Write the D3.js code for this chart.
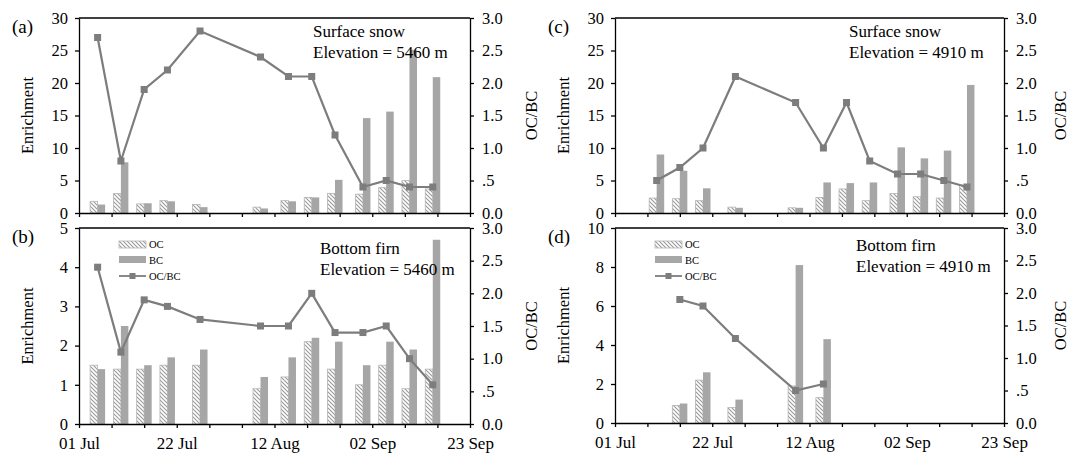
<!DOCTYPE html>
<html lang="en">
<head>
  <meta charset="UTF-8">
  <title>OC / BC enrichment</title>
  <script src="https://d3js.org/d3.v7.min.js"></script>
  <style>
    body { margin: 0; background: #fff; }
    svg { font-family: "Liberation Serif", "Times New Roman", serif; }
    .axis path, .axis line { stroke: #000; stroke-width: 1.3; }
    .oc-bar { stroke: #b5b5b5; stroke-width: 0.8; }
    .bc-bar { fill: #a6a6a6; }
    .ratio-line { fill: none; stroke: #7d7d7d; stroke-width: 2.2; }
    .ratio-pt { fill: #7d7d7d; }
    .note { font-size: 17px; }
    .legend text { font-size: 10.5px; }
  </style>
</head>
<body>
<svg width="1072" height="455"></svg>
<script>
  // sampling dates
  const datesA = ["05 Jul", "10 Jul", "15 Jul", "20 Jul", "27 Jul", "09 Aug", "15 Aug", "20 Aug", "25 Aug", "31 Aug", "05 Sep", "10 Sep", "15 Sep"];
  const datesC = ["10 Jul", "15 Jul", "20 Jul", "27 Jul", "09 Aug", "15 Aug", "20 Aug", "25 Aug", "31 Aug", "05 Sep", "10 Sep", "15 Sep"];
  const datesD = ["15 Jul", "20 Jul", "27 Jul", "09 Aug", "15 Aug"];

  // (a) surface snow 5460 m
  const ocA = [1.8, 3.0, 1.4, 1.9, 1.3, 0.9, 1.9, 2.4, 3.0, 2.9, 3.9, 5.0, 3.7];
  const bcA = [1.3, 7.8, 1.5, 1.8, 0.9, 0.7, 1.8, 2.4, 5.1, 14.6, 15.6, 25.1, 20.9];
  const ratioA = [2.7, 0.8, 1.9, 2.2, 2.8, 2.4, 2.1, 2.1, 1.2, 0.4, 0.5, 0.4, 0.4];

  // (b) bottom firn 5460 m
  const ocB = [1.5, 1.4, 1.4, 1.5, 1.5, 0.9, 1.2, 2.1, 1.4, 1.0, 1.5, 0.9, 1.4];
  const bcB = [1.4, 2.5, 1.5, 1.7, 1.9, 1.2, 1.7, 2.2, 2.1, 1.5, 2.1, 1.9, 4.7];
  const ratioB = [2.4, 1.1, 1.9, 1.8, 1.6, 1.5, 1.5, 2.0, 1.4, 1.4, 1.5, 1.0, 0.6];

  // (c) surface snow 4910 m
  const ocC = [2.3, 2.2, 1.9, 0.9, 0.8, 2.4, 3.7, 1.9, 3.0, 2.5, 2.3, 4.3];
  const bcC = [9.0, 6.5, 3.8, 0.8, 0.8, 4.7, 4.6, 4.7, 10.1, 8.4, 9.6, 19.7];
  const ratioC = [0.5, 0.7, 1.0, 2.1, 1.7, 1.0, 1.7, 0.8, 0.6, 0.6, 0.5, 0.4];

  // (d) bottom firn 4910 m
  const ocD = [0.9, 2.2, 0.8, 1.9, 1.3];
  const bcD = [1.0, 2.6, 1.2, 8.1, 4.3];
  const ratioD = [1.9, 1.8, 1.3, 0.5, 0.6];

  const xTickLabels = ["01 Jul", "22 Jul", "12 Aug", "02 Sep", "23 Sep"];
  const legendLabels = ["OC", "BC", "OC/BC"];

  const serif = "'Liberation Serif', 'Times New Roman', serif";
  const parse = d3.timeParse("%d %b");
  const fmt = d3.timeFormat("%d %b");
  const start = parse("01 Jul"), end = parse("23 Sep");
  const weekly = d3.timeDay.range(start, d3.timeDay.offset(end, 1), 7);

  const svg = d3.select("svg");
  svg.append("rect").attr("width", 1072).attr("height", 455).attr("fill", "#fff");

  // hatch for OC bars
  svg.append("defs").append("pattern")
    .attr("id", "hatch").attr("patternUnits", "userSpaceOnUse")
    .attr("width", 4).attr("height", 4)
    .call(p => {
      p.append("rect").attr("width", 4).attr("height", 4).attr("fill", "#fff");
      p.append("path").attr("d", "M-1,-1L5,5M3,-1L5,1M-1,3L1,5")
        .attr("stroke", "#9a9a9a").attr("stroke-width", 1.1);
    });

  function styleAxis(sel, size) {
    sel.attr("font-family", serif).attr("font-size", size);
    sel.selectAll("text").style("font-family", serif).style("font-size", size + "px").attr("fill", "#000");
  }

  function panel(o) {
    const g = svg.append("g");
    const x = d3.scaleTime().domain([start, end]).range([o.x0, o.x1]);
    const yL = d3.scaleLinear().domain([0, o.yMax]).range([o.y1, o.y0]);
    const yR = d3.scaleLinear().domain([0, 3]).range([o.y1, o.y0]);
    const bw = 7.5;
    const dates = o.dates.map(parse);

    // bars
    g.selectAll(".oc-bar").data(o.oc).enter().append("rect")
      .attr("class", "oc-bar").attr("fill", "url(#hatch)")
      .attr("x", (d, i) => x(dates[i]) - bw).attr("width", bw)
      .attr("y", d => yL(d)).attr("height", d => yL(0) - yL(d));
    g.selectAll(".bc-bar").data(o.bc).enter().append("rect")
      .attr("class", "bc-bar")
      .attr("x", (d, i) => x(dates[i])).attr("width", bw)
      .attr("y", d => yL(d)).attr("height", d => yL(0) - yL(d));

    // ratio line
    const line = d3.line().x((d, i) => x(dates[i])).y(d => yR(d));
    g.append("path").attr("class", "ratio-line").attr("d", line(o.ratio));
    g.selectAll(".ratio-pt").data(o.ratio).enter().append("rect")
      .attr("class", "ratio-pt")
      .attr("x", (d, i) => x(dates[i]) - 3.5).attr("y", d => yR(d) - 3.5)
      .attr("width", 7).attr("height", 7);

    // axes
    g.append("line").attr("x1", o.x0).attr("x2", o.x1).attr("y1", o.y0).attr("y2", o.y0)
      .attr("stroke", "#000").attr("stroke-width", 1.3);
    g.append("g").attr("class", "axis").attr("transform", `translate(${o.x0},0)`)
      .call(d3.axisLeft(yL).ticks(5).tickSize(4).tickSizeOuter(0).tickPadding(7))
      .call(styleAxis, 16.5);
    g.append("g").attr("class", "axis").attr("transform", `translate(${o.x1},0)`)
      .call(d3.axisRight(yR).ticks(6).tickSize(4).tickSizeOuter(0).tickPadding(8)
        .tickFormat(d => d3.format(".1f")(d).replace(/^0\.5$/, ".5")))
      .call(styleAxis, 16.5);
    g.append("g").attr("class", "axis").attr("transform", `translate(0,${o.y1})`)
      .call(d3.axisBottom(x).tickValues(weekly).tickSize(4).tickSizeOuter(0).tickPadding(9)
        .tickFormat(d => o.xLabels && xTickLabels.includes(fmt(d)) ? fmt(d) : ""))
      .call(styleAxis, 17);

    // titles
    const ym = (o.y0 + o.y1) / 2;
    g.append("text").attr("transform", `translate(${o.x0 - 46},${ym}) rotate(-90)`)
      .attr("text-anchor", "middle").style("font-size", "16.5px").text("Enrichment");
    g.append("text").attr("transform", `translate(${o.x1 + o.rOff},${ym}) rotate(-90)`)
      .attr("text-anchor", "middle").style("font-size", "16.5px").text("OC/BC");
    g.append("text").attr("x", o.x0 - 67).attr("y", o.y0 + 15)
      .style("font-size", "19px").text(o.tag);
    o.note.forEach((t, i) => g.append("text").attr("class", "note")
      .attr("x", o.noteX).attr("y", o.noteY + i * 20.5).text(t));

    if (o.legend) {
      const lg = g.append("g").attr("class", "legend")
        .attr("transform", `translate(${o.x0 + 40},${o.y0 + 13})`);
      lg.append("rect").attr("class", "oc-bar").attr("fill", "url(#hatch)")
        .attr("width", 27).attr("height", 7);
      lg.append("rect").attr("class", "bc-bar").attr("y", 15).attr("width", 27).attr("height", 7);
      lg.append("line").attr("class", "ratio-line").attr("x2", 27).attr("y1", 35).attr("y2", 35)
        .style("stroke-width", 1.8);
      lg.append("rect").attr("class", "ratio-pt").attr("x", 10.5).attr("y", 32).attr("width", 6).attr("height", 6);
      legendLabels.forEach((t, i) => lg.append("text").attr("x", 30).attr("y", 7 + i * 16).text(t));
    }
  }

  panel({ x0: 79, x1: 470, y0: 18, y1: 213, yMax: 30, dates: datesA, oc: ocA, bc: bcA, ratio: ratioA, rOff: 67,
    tag: "(a)", note: ["Surface snow", "Elevation = 5460 m"], noteX: 313, noteY: 37 });
  panel({ x0: 79, x1: 470, y0: 228, y1: 424, yMax: 5, dates: datesA, oc: ocB, bc: bcB, ratio: ratioB, rOff: 67,
    tag: "(b)", note: ["Bottom firn", "Elevation = 5460 m"], noteX: 320, noteY: 254, xLabels: true, legend: true });
  panel({ x0: 615, x1: 1004, y0: 18, y1: 213, yMax: 30, dates: datesC, oc: ocC, bc: bcC, ratio: ratioC, rOff: 62,
    tag: "(c)", note: ["Surface snow", "Elevation = 4910 m"], noteX: 849, noteY: 37 });
  panel({ x0: 615, x1: 1004, y0: 228, y1: 423, yMax: 10, dates: datesD, oc: ocD, bc: bcD, ratio: ratioD, rOff: 62,
    tag: "(d)", note: ["Bottom firn", "Elevation = 4910 m"], noteX: 856, noteY: 251, xLabels: true, legend: true });
</script>
</body>
</html>
